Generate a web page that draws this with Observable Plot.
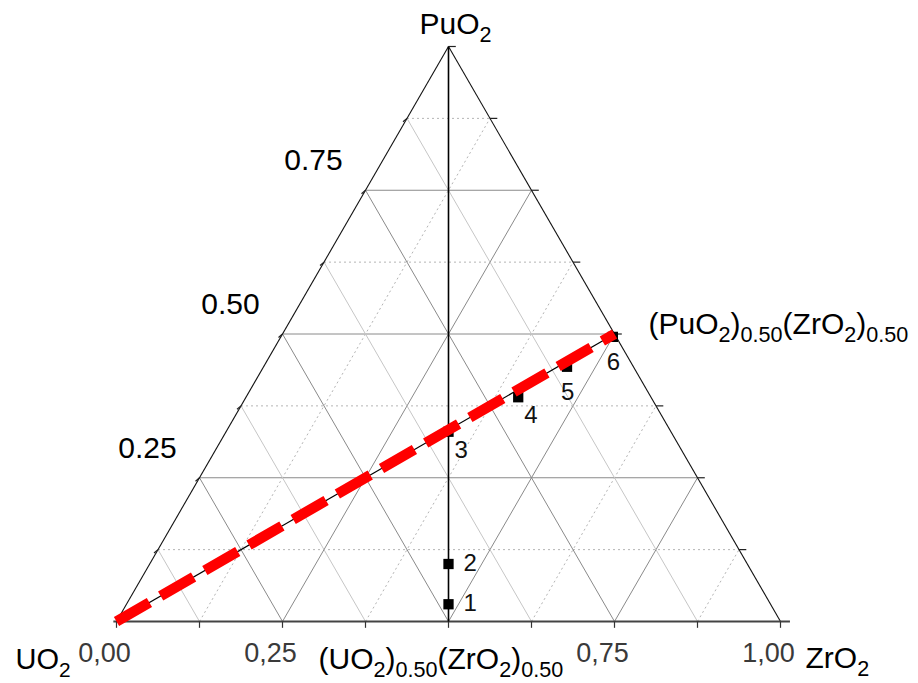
<!DOCTYPE html>
<html><head><meta charset="utf-8">
<script src="https://cdn.jsdelivr.net/npm/d3@7"></script>
<script src="https://cdn.jsdelivr.net/npm/@observablehq/plot@0.6"></script>
<style>body{margin:0;background:#fff}#chart svg{display:block}</style>
</head><body><div id="chart"></div>
<script>
// ---- data ----
const pointIds = [1, 2, 3, 4, 5, 6];
const fracUO2  = [0.485, 0.45, 0.335, 0.20, 0.10, 0.005];
const fracPuO2 = [0.03, 0.10, 0.33, 0.39, 0.443, 0.495];
const fracZrO2 = [0.485, 0.45, 0.335, 0.41, 0.457, 0.50];
const gridLevels = [0.125, 0.25, 0.375, 0.5, 0.625, 0.75, 0.875];
const edgeTickLevels = [0, 0.125, 0.25, 0.375, 0.5, 0.625, 0.75, 0.875, 1];
const leftTickValues = [0.25, 0.5, 0.75];
const leftTickLabels = ["0.25", "0.50", "0.75"];
const bottomTickValues = [0, 0.25, 0.75, 1];
const bottomTickLabels = ["0,00", "0,25", "0,75", "1,00"];
const vertexNames = ["UO_{2}", "PuO_{2}", "ZrO_{2}"];
const binaryNames = ["(UO_{2})_{0.50}(ZrO_{2})_{0.50}", "(PuO_{2})_{0.50}(ZrO_{2})_{0.50}"];
const tieStart = {u: 1, p: 0, z: 0};
const tieEnd = {u: 0, p: 0.5, z: 0.5};

// ternary -> cartesian (X along base, Y = PuO2 fraction)
const TX = (p, z) => z + p / 2;
const TY = (p) => p;

const points = pointIds.map((id, i) => ({id, u: fracUO2[i], p: fracPuO2[i], z: fracZrO2[i]}));

const isMajor = (L) => Math.abs(L * 4 - Math.round(L * 4)) < 1e-9;
const gridP = gridLevels.map(L => ({L, x1: TX(L, 0), y1: L, x2: TX(L, 1 - L), y2: L}));
const gridZ = gridLevels.map(L => ({L, x1: TX(0, L), y1: 0, x2: TX(1 - L, L), y2: 1 - L}));
const gridU = gridLevels.map(L => ({L, x1: TX(0, 1 - L), y1: 0, x2: TX(1 - L, 0), y2: 1 - L}));

const FONT = "Liberation Sans, Arial, Helvetica, sans-serif";
const majorColor = "#8a8a8a", lightColor = "#c6c6c6", dotColor = "#b4b4b4";

const chart = Plot.plot({
  width: 918,
  height: 683,
  style: {fontFamily: FONT, background: "#fff", overflow: "visible"},
  x: {domain: [0, 1], range: [116, 780], axis: null},
  y: {domain: [0, 1], range: [621, 46], axis: null},
  marks: [
    // horizontal grid (constant PuO2)
    Plot.link(gridP.filter(d => isMajor(d.L)), {x1: "x1", y1: "y1", x2: "x2", y2: "y2", stroke: majorColor, strokeWidth: 1}),
    Plot.link(gridP.filter(d => !isMajor(d.L)), {x1: "x1", y1: "y1", x2: "x2", y2: "y2", stroke: dotColor, strokeWidth: 1, strokeDasharray: "2,3"}),
    // constant ZrO2 (parallel to left edge)
    Plot.link(gridZ.filter(d => isMajor(d.L)), {x1: "x1", y1: "y1", x2: "x2", y2: "y2", stroke: majorColor, strokeWidth: 1}),
    Plot.link(gridZ.filter(d => !isMajor(d.L)), {x1: "x1", y1: "y1", x2: "x2", y2: "y2", stroke: dotColor, strokeWidth: 1, strokeDasharray: "2,3"}),
    // constant UO2 (parallel to right edge)
    Plot.link(gridU.filter(d => isMajor(d.L)), {x1: "x1", y1: "y1", x2: "x2", y2: "y2", stroke: majorColor, strokeWidth: 1}),
    Plot.link(gridU.filter(d => !isMajor(d.L)), {x1: "x1", y1: "y1", x2: "x2", y2: "y2", stroke: lightColor, strokeWidth: 1}),
    // triangle edges
    Plot.link([{x1: TX(0, 0), y1: 0, x2: TX(1, 0), y2: 1}, {x1: TX(1, 0), y1: 1, x2: TX(0, 1), y2: 0}],
      {x1: "x1", y1: "y1", x2: "x2", y2: "y2", stroke: "#111", strokeWidth: 1.1}),
    Plot.ruleY([0], {x1: -0.004, x2: 1.015, stroke: "#444", strokeWidth: 2}),
    // edge ticks
    Plot.link(edgeTickLevels, {x1: d => d, y1: 0, x2: d => d, y2: -0.011, stroke: "#333", strokeWidth: 1.2}),
    Plot.link(edgeTickLevels.slice(1), {x1: d => TX(d, 1 - d), y1: d => d, x2: d => TX(d, 1 - d) + 0.011, y2: d => d, stroke: "#222", strokeWidth: 1.2}),
    Plot.link(edgeTickLevels.slice(1, -1), {x1: d => TX(d, 0), y1: d => d, x2: d => TX(d, 0) - 0.006, y2: d => d - 0.006, stroke: "#222", strokeWidth: 1.2}),
    // centre line (UO2 = ZrO2)
    Plot.link([{x1: 0.5, y1: 0, x2: 0.5, y2: 1}], {x1: "x1", y1: "y1", x2: "x2", y2: "y2", stroke: "#000", strokeWidth: 1.6}),
    // composition points
    Plot.dot(points, {x: d => TX(d.p, d.z), y: d => TY(d.p), symbol: "square", r: 5.8, fill: "#000", stroke: "none"}),
    // thin tie line and red dashed line
    Plot.link([{a: tieStart, b: tieEnd}], {x1: d => TX(d.a.p, d.a.z), y1: d => TY(d.a.p), x2: d => TX(d.b.p, d.b.z), y2: d => TY(d.b.p), stroke: "#000", strokeWidth: 1.2}),
    Plot.link([{a: tieStart, b: tieEnd}], {x1: d => TX(d.a.p, d.a.z), y1: d => TY(d.a.p), x2: d => TX(d.b.p, d.b.z), y2: d => TY(d.b.p), stroke: "#ff0000", strokeWidth: 10.5, strokeDasharray: "38,13"}),
    // point labels
    Plot.text(points.filter(d => d.id <= 2), {x: d => TX(d.p, d.z), y: d => TY(d.p), text: d => String(d.id), textAnchor: "start", lineAnchor: "bottom", dx: 15, dy: 7, fontSize: 24, fill: "#111"}),
    Plot.text(points.filter(d => d.id === 3 || d.id === 4), {x: d => TX(d.p, d.z), y: d => TY(d.p), text: d => String(d.id), textAnchor: "start", lineAnchor: "bottom", dx: 6, dy: 26, fontSize: 24, fill: "#111"}),
    Plot.text(points.filter(d => d.id >= 5), {x: d => TX(d.p, d.z), y: d => TY(d.p), text: d => String(d.id), textAnchor: "start", lineAnchor: "bottom", dx: -6, dy: 33, fontSize: 24, fill: "#111"}),
    // left (PuO2) tick labels
    Plot.text(leftTickValues, {x: d => TX(d, 0), y: d => TY(d), text: (d, i) => leftTickLabels[i], textAnchor: "middle", lineAnchor: "bottom", dx: -52, dy: -20, fontSize: 30, fill: "#000"}),
    // bottom (ZrO2) tick labels
    Plot.text(bottomTickValues, {x: d => d, y: 0, text: (d, i) => bottomTickLabels[i], textAnchor: "middle", lineAnchor: "bottom", dx: -12, dy: 40, fontSize: 27, fill: "#3a3a3a"}),
    // vertex names
    Plot.text([vertexNames[0]], {x: TX(0, 0), y: 0, text: d => d, textAnchor: "start", lineAnchor: "bottom", dx: -101, dy: 47, fontSize: 29, fill: "#000"}),
    Plot.text([vertexNames[1]], {x: TX(1, 0), y: 1, text: d => d, textAnchor: "middle", lineAnchor: "bottom", dx: 7, dy: -13, fontSize: 30, fill: "#000"}),
    Plot.text([vertexNames[2]], {x: TX(0, 1), y: 0, text: d => d, textAnchor: "start", lineAnchor: "bottom", dx: 25, dy: 46, fontSize: 30, fill: "#000"}),
    // binary compositions
    Plot.text([binaryNames[0]], {x: TX(0, 0.5), y: 0, text: d => d, textAnchor: "start", lineAnchor: "bottom", dx: -130, dy: 47, fontSize: 30, fill: "#000"}),
    Plot.text([binaryNames[1]], {x: TX(tieEnd.p, tieEnd.z), y: tieEnd.p, text: d => d, textAnchor: "start", lineAnchor: "bottom", dx: 34, dy: 0, fontSize: 30, fill: "#000"})
  ]
});

document.getElementById("chart").appendChild(chart);

// turn _{...} markup into real subscript tspans
d3.select(chart).selectAll("text").each(function () {
  const t = this.textContent;
  if (!t.includes("_{")) return;
  const fs = parseFloat(getComputedStyle(this).fontSize) || 26;
  const parts = t.split(/(_\{[^}]*\})/).filter(s => s.length);
  const sel = d3.select(this);
  sel.text(null);
  const shift = fs * 0.28;
  let shifted = false;
  parts.forEach(s => {
    const m = s.match(/^_\{(.*)\}$/);
    if (m) {
      sel.append("tspan").attr("font-size", fs * 0.72).attr("dy", shifted ? 0 : shift).text(m[1]);
      shifted = true;
    } else {
      sel.append("tspan").attr("dy", shifted ? -shift : 0).text(s);
      shifted = false;
    }
  });
});
</script>
</body></html>
